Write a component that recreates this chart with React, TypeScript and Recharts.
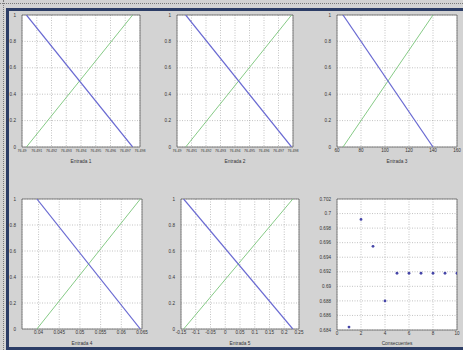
import React from 'react';
import { ComposedChart, Line, Scatter, XAxis, YAxis, CartesianGrid, ReferenceArea } from 'recharts';

// ---- data ----
const unitTicks = [0, 0.2, 0.4, 0.6, 0.8, 1];
const unitLabels = ['0', '0.2', '0.4', '0.6', '0.8', '1'];

const e1Ticks = [76.49, 76.491, 76.492, 76.493, 76.494, 76.495, 76.496, 76.497, 76.498];
const e1Labels = ['76.49', '76.491', '76.492', '76.493', '76.494', '76.495', '76.496', '76.497', '76.498'];
const e1X = [76.4903, 76.4975];

const e2Ticks = [76.49, 76.491, 76.492, 76.493, 76.494, 76.495, 76.496, 76.497, 76.498];
const e2Labels = ['76.49', '76.491', '76.492', '76.493', '76.494', '76.495', '76.496', '76.497', '76.498'];
const e2X = [76.4906, 76.4979];

const e3Ticks = [60, 80, 100, 120, 140, 160];
const e3Labels = ['60', '80', '100', '120', '140', '160'];
const e3X = [65, 140];

const e4Ticks = [0.036, 0.04, 0.045, 0.05, 0.055, 0.06, 0.065];
const e4Labels = ['', '0.04', '0.045', '0.05', '0.055', '0.06', '0.065'];
const e4X = [0.0396, 0.0646];

const e5Ticks = [-0.15, -0.1, -0.05, 0, 0.05, 0.1, 0.15, 0.2, 0.25];
const e5Labels = ['-0.15', '-0.1', '-0.05', '0', '0.05', '0.1', '0.15', '0.2', '0.25'];
const e5X = [-0.141, 0.229];

const blueY = [1, 0];
const greenY = [0, 1];

const consX = [1, 2, 3, 4, 5, 6, 7, 8, 9, 10];
const consY = [0.6844, 0.6992, 0.6955, 0.688, 0.6918, 0.6918, 0.6918, 0.6918, 0.6918, 0.6918];
const consXTicks = [0, 2, 4, 6, 8, 10];
const consXLabels = ['0', '2', '4', '6', '8', '10'];
const consYTicks = [0.684, 0.686, 0.688, 0.69, 0.692, 0.694, 0.696, 0.698, 0.7, 0.702];
const consYLabels = ['0.684', '0.686', '0.688', '0.69', '0.692', '0.694', '0.696', '0.698', '0.7', '0.702'];

const BLUE = '#6a6ad2';
const GREEN = '#78c478';
const FONT = 'Liberation Sans, Arial, sans-serif';
const YW = 30;
const XH = 20;
const MT = 4;
const MR = 14;

type PanelProps = {
  px: number; py: number; w: number; h: number;
  xDomain: number[]; xTicks: number[]; xLabels: string[]; xFont?: number;
  yDomain: number[]; yTicks: number[]; yLabels: string[];
  label: string; labelOffset?: number;
  lines?: { x: number[] };
  scatter?: { x: number[]; y: number[] };
};

function Panel(p: PanelProps) {
  const tickStyle = { fontSize: 4.6, fill: '#333', fontFamily: FONT };
  const xTickStyle = { ...tickStyle, fontSize: p.xFont ?? 4.6 };
  const blueData = p.lines ? p.lines.x.map((x, i) => ({ x, y: blueY[i] })) : [];
  const greenData = p.lines ? p.lines.x.map((x, i) => ({ x, y: greenY[i] })) : [];
  const scatData = p.scatter ? p.scatter.x.map((x, i) => ({ x, y: p.scatter!.y[i] })) : [];
  return (
    <div style={{ position: 'absolute', left: p.px - YW, top: p.py - MT }}>
      <ComposedChart width={YW + p.w + MR} height={MT + p.h + XH} margin={{ top: MT, right: MR, bottom: 0, left: 0 }}>
        <CartesianGrid stroke="#9a9a9a" strokeDasharray="1 1.5" strokeWidth={0.6} fill="#ffffff" fillOpacity={1} />
        <XAxis
          dataKey="x" type="number" domain={p.xDomain} ticks={p.xTicks} allowDataOverflow
          height={XH} tickLine={false} axisLine={false} tickSize={0} tickMargin={2} interval={0}
          tick={xTickStyle}
          tickFormatter={(v: number, i: number) => p.xLabels[i] ?? String(v)}
          label={{ value: p.label, position: 'insideBottom', offset: p.labelOffset ?? 4, fontSize: 4.8, fill: '#333', fontFamily: FONT }}
        />
        <YAxis
          dataKey="y" type="number" domain={p.yDomain} ticks={p.yTicks} allowDataOverflow
          width={YW} tickLine={false} axisLine={false} tickSize={0} tickMargin={6} interval={0}
          tick={tickStyle}
          tickFormatter={(v: number, i: number) => p.yLabels[i] ?? String(v)}
        />
        <ReferenceArea x1={p.xDomain[0]} x2={p.xDomain[1]} y1={p.yDomain[0]} y2={p.yDomain[1]} fill="none" stroke="#666" strokeWidth={0.8} ifOverflow="visible" />
        {p.lines && (
          <Line data={greenData} dataKey="y" type="linear" stroke={GREEN} strokeWidth={0.9} dot={false} isAnimationActive={false} />
        )}
        {p.lines && (
          <Line data={blueData} dataKey="y" type="linear" stroke={BLUE} strokeWidth={1.2} dot={false} isAnimationActive={false} />
        )}
        {p.scatter && (
          <Scatter
            data={scatData} dataKey="y" fill="#4646a8" isAnimationActive={false}
            shape={(s: any) => <circle cx={s.cx} cy={s.cy} r={1.4} fill="#4646a8" />}
          />
        )}
      </ComposedChart>
    </div>
  );
}

export default function App() {
  return (
    <div style={{ position: 'absolute', left: 0, top: 0, width: 463, height: 350, background: '#d3d3d3', overflow: 'hidden' }}>
      <div style={{ position: 'absolute', left: 0, top: 3, width: 463, height: 0, borderTop: '1px dotted #7a7a7a' }} />
      <div style={{ position: 'absolute', left: 3, top: 0, width: 0, height: 350, borderLeft: '1px dotted #7a7a7a' }} />
      <div style={{ position: 'absolute', left: 6, top: 8, width: 457, height: 3, background: '#2c3d66' }} />
      <div style={{ position: 'absolute', left: 6, top: 8, width: 3, height: 342, background: '#2c3d66' }} />
      <div style={{ position: 'absolute', left: 6, top: 347, width: 457, height: 3, background: '#2c3d66' }} />

      <Panel px={22} py={15} w={118} h={132} xDomain={[76.49, 76.498]} xTicks={e1Ticks} xLabels={e1Labels} xFont={3.6}
        yDomain={[0, 1]} yTicks={unitTicks} yLabels={unitLabels} label="Entrada 1" lines={{ x: e1X }} />
      <Panel px={177} py={15} w={116} h={132} xDomain={[76.49, 76.498]} xTicks={e2Ticks} xLabels={e2Labels} xFont={3.6}
        yDomain={[0, 1]} yTicks={unitTicks} yLabels={unitLabels} label="Entrada 2" lines={{ x: e2X }} />
      <Panel px={337} py={15} w={120} h={132} xDomain={[60, 160]} xTicks={e3Ticks} xLabels={e3Labels}
        yDomain={[0, 1]} yTicks={unitTicks} yLabels={unitLabels} label="Entrada 3" lines={{ x: e3X }} />
      <Panel px={22} py={199} w={120} h={130} xDomain={[0.036, 0.065]} xTicks={e4Ticks} xLabels={e4Labels}
        yDomain={[0, 1]} yTicks={unitTicks} yLabels={unitLabels} label="Entrada 4" labelOffset={4} lines={{ x: e4X }} />
      <Panel px={181} py={199} w={118} h={130} xDomain={[-0.15, 0.25]} xTicks={e5Ticks} xLabels={e5Labels}
        yDomain={[0, 1]} yTicks={unitTicks} yLabels={unitLabels} label="Entrada 5" labelOffset={4} lines={{ x: e5X }} />
      <Panel px={337} py={199} w={120} h={131} xDomain={[0, 10]} xTicks={consXTicks} xLabels={consXLabels}
        yDomain={[0.684, 0.702]} yTicks={consYTicks} yLabels={consYLabels} label="Consecuentes" labelOffset={5}
        scatter={{ x: consX, y: consY }} />
    </div>
  );
}
